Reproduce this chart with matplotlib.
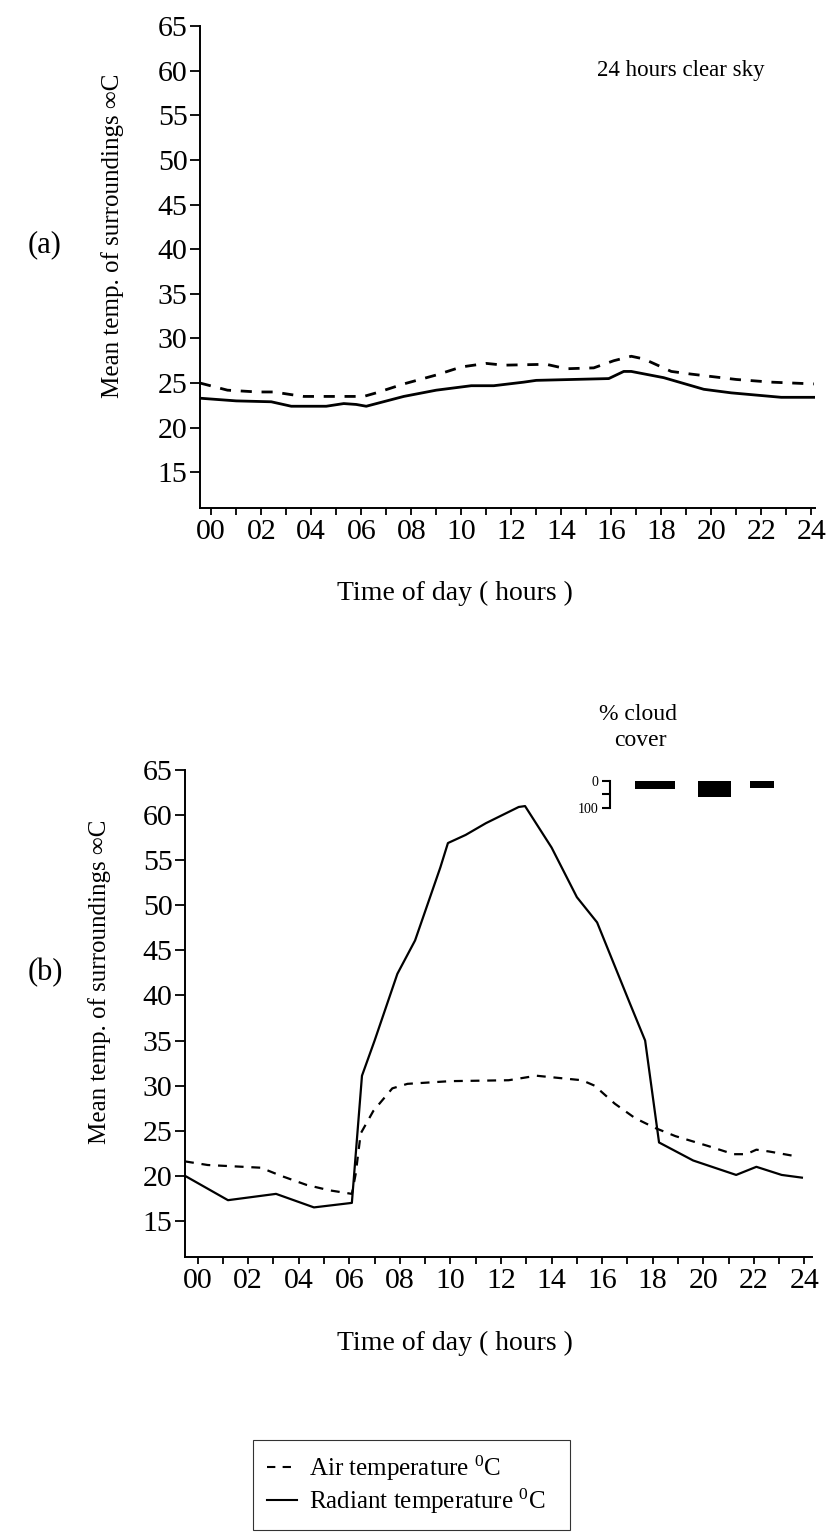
import matplotlib
matplotlib.use('Agg')
import matplotlib.pyplot as plt
from matplotlib.lines import Line2D

plt.rcParams['font.family'] = ['Liberation Serif', 'DejaVu Serif']
plt.rcParams['mathtext.fontset'] = 'custom'
plt.rcParams['mathtext.rm'] = 'Liberation Serif'
plt.rcParams['mathtext.it'] = 'Liberation Serif:italic'

# (a) 24 hours clear sky
air_a_hours = [-0.45, 0.65, 1.85, 2.5, 3.2, 3.7, 5.0, 6.1, 6.6, 7.7, 9.0, 10.0, 11.0, 11.7,
               13.4, 14.2, 15.3, 16.1, 16.8, 17.3, 18.4, 19.2, 21.0, 22.4, 24.1]
air_a = [25.0, 24.2, 24.0, 24.0, 23.7, 23.5, 23.5, 23.5, 23.9, 24.9, 25.9, 26.8, 27.2, 27.0,
         27.1, 26.6, 26.7, 27.5, 28.0, 27.7, 26.3, 26.0, 25.4, 25.1, 24.9]
rad_a_hours = [-0.45, 1.0, 2.4, 3.2, 4.6, 5.3, 5.8, 6.2, 7.7, 9.0, 10.4, 11.3, 12.5, 13.0,
               15.9, 16.5, 16.8, 18.1, 19.7, 20.8, 22.8, 24.1]
rad_a = [23.3, 23.0, 22.9, 22.4, 22.4, 22.7, 22.6, 22.4, 23.5, 24.2, 24.7, 24.7, 25.1, 25.3,
         25.5, 26.3, 26.3, 25.6, 24.3, 23.9, 23.4, 23.4]

# (b) day with cloud
air_b_hours = [-0.5, 0.4, 2.5, 3.3, 4.3, 5.2, 6.1, 6.25, 6.45, 6.95, 7.7, 8.3, 10.0, 12.3,
               13.4, 15.2, 15.7, 16.5, 17.3, 18.1, 18.9, 20.2, 21.2, 21.7, 22.1, 22.6, 23.6]
air_b = [21.6, 21.2, 20.9, 20.0, 19.0, 18.4, 18.0, 20.2, 24.7, 27.2, 29.7, 30.2, 30.5, 30.6,
         31.1, 30.6, 30.0, 28.0, 26.4, 25.3, 24.4, 23.3, 22.4, 22.4, 22.9, 22.7, 22.2]
rad_b_hours = [-0.5, 1.2, 3.1, 4.6, 6.1, 6.5, 7.0, 7.9, 8.6, 9.6, 9.9, 10.6, 11.4, 12.7,
               12.95, 14.0, 15.0, 15.8, 17.1, 17.7, 18.25, 19.6, 21.3, 22.1, 23.1, 23.9]
rad_b = [20.0, 17.3, 18.0, 16.5, 17.0, 31.1, 35.0, 42.4, 46.1, 54.2, 56.9, 57.8, 59.1, 60.9,
         61.0, 56.4, 50.9, 48.1, 39.1, 35.0, 23.7, 21.7, 20.1, 21.0, 20.1, 19.8]

# cloud cover bars (start hour, end hour, percent)
cloud_start = [17.3, 19.8, 21.85]
cloud_end = [18.9, 21.1, 22.8]
cloud_pct = [30, 60, 25]

hour_ticks = list(range(0, 25, 2))
hour_labels = ['%02d' % h for h in hour_ticks]
odd_hours = list(range(1, 24, 2))
y_ticks = list(range(15, 66, 5))

ylabel = 'Mean temp. of surroundings \u221eC'
xlabel = 'Time of day ( hours )'

W, H = 829, 1536


def fx(x):
    return x / W


def fy(y):
    return 1 - y / H


fig = plt.figure(figsize=(W / 100, H / 100), dpi=100)

ax_a = fig.add_axes([fx(200), fy(508), (815 - 200) / W, (508 - 26) / H])
ax_b = fig.add_axes([fx(185), fy(1257), (812 - 185) / W, (1257 - 770) / H])


def style_axes(ax, xlim):
    ax.set_xlim(*xlim)
    ax.set_ylim(11, 65)
    for s in ['top', 'right']:
        ax.spines[s].set_visible(False)
    for s in ['left', 'bottom']:
        ax.spines[s].set_linewidth(1.4)
    ax.set_yticks(y_ticks)
    ax.set_xticks(hour_ticks)
    ax.set_xticklabels(hour_labels)
    ax.set_xticks(odd_hours, minor=True)
    ax.tick_params(axis='y', length=7, width=1.3, pad=2, labelsize=21.5)
    ax.tick_params(axis='x', which='both', length=5, width=1.3, pad=3, labelsize=21.5)


dash = (0, (4, 3.5))

style_axes(ax_a, (-0.45, 24.15))
ax_a.plot(air_a_hours, air_a, color='black', lw=2.0, ls=dash)
ax_a.plot(rad_a_hours, rad_a, color='black', lw=2.0)
ax_a.text(18.8, 60, '24 hours clear sky', fontsize=16.5, ha='center', va='center')

style_axes(ax_b, (-0.5, 24.3))
ax_b.plot(air_b_hours, air_b, color='black', lw=1.6, ls=dash)
ax_b.plot(rad_b_hours, rad_b, color='black', lw=1.6)

# cloud cover inset
ax_c = ax_b.inset_axes([16.3, 60.8, 24.3 - 16.3, 3.0], transform=ax_b.transData)
ax_c.set_xlim(16.3, 24.3)
ax_c.set_ylim(100, 0)
ax_c.patch.set_alpha(0)
for s in ['top', 'right', 'bottom']:
    ax_c.spines[s].set_visible(False)
ax_c.spines['left'].set_linewidth(1.5)
ax_c.set_xticks([])
ax_c.set_yticks([0, 50, 100])
ax_c.set_yticklabels(['0', '', '100'])
ax_c.tick_params(axis='y', length=6, width=1.5, pad=2, labelsize=10)
ax_c.bar(cloud_start, cloud_pct, width=[e - s for s, e in zip(cloud_start, cloud_end)],
         align='edge', color='black')
ax_b.text(17.4, 71.1, '% cloud', fontsize=17, ha='center', va='center', clip_on=False)
ax_b.text(17.5, 68.3, 'cover', fontsize=17, ha='center', va='center', clip_on=False)

# axis titles and panel letters
fig.text(fx(455), fy(593), xlabel, fontsize=20, ha='center', va='center')
fig.text(fx(455), fy(1343), xlabel, fontsize=20, ha='center', va='center')
fig.text(fx(113), fy(236), ylabel, fontsize=18, ha='center', va='center', rotation=90)
fig.text(fx(100), fy(982), ylabel, fontsize=18, ha='center', va='center', rotation=90)
fig.text(fx(45), fy(245), '(a)', fontsize=22, ha='center', va='center')
fig.text(fx(45), fy(973), '(b)', fontsize=22, ha='center', va='center')

handles = [Line2D([], [], color='black', lw=1.5, ls=dash),
           Line2D([], [], color='black', lw=1.5)]
labels = [r'Air temperature $^{0}$C', r'Radiant temperature $^{0}$C']
leg = fig.legend(handles, labels, loc='upper left',
                 bbox_to_anchor=(fx(253), fy(1530), (570 - 253) / W, (1530 - 1440) / H),
                 mode='expand', borderaxespad=0, fontsize=18, handlelength=1.2,
                 handletextpad=0.5, labelspacing=0.15, borderpad=0.55,
                 fancybox=False, frameon=True)
leg.get_frame().set_edgecolor('black')
leg.get_frame().set_linewidth(0.8)

fig.savefig('out.png', dpi=100)
